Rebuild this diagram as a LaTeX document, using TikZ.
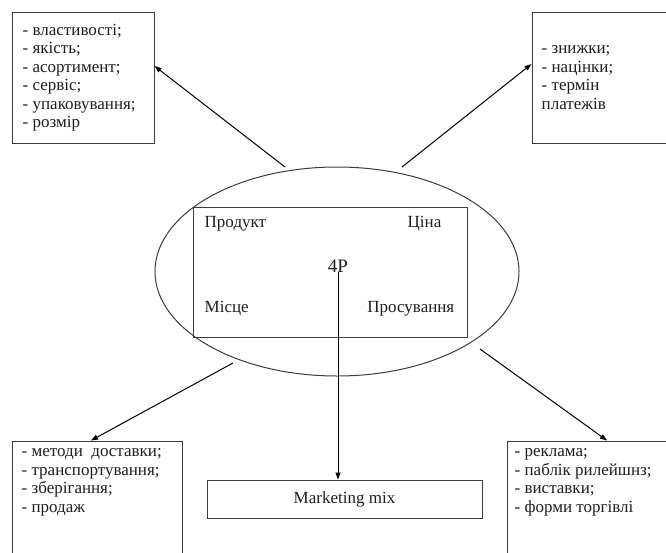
\documentclass[tikz,border=0pt]{standalone}
\usepackage{fontspec}
\setmainfont{Liberation Serif}
\usepackage{tikz}
\usetikzlibrary{arrows.meta,positioning,calc,shapes.geometric}
\definecolor{ink}{HTML}{1E1E1E}
\definecolor{edge}{HTML}{3C3C3C}

\begin{document}
\begin{tikzpicture}[x=1pt,y=-1pt,>={Triangle[length=7pt,width=5pt]},
  every node/.style={font=\fontsize{17}{18.5}\selectfont,text=ink},
  box/.style={draw=edge,line width=1pt,rectangle,inner sep=0pt},
  lbl/.style={inner sep=0pt,align=left}]
\useasboundingbox (0,0) rectangle (666,552);
\clip (0,0) rectangle (666,552);
% outer boxes
\node[box,minimum width=142pt,minimum height=131pt] (prod) at (83,77.5) {};
\node[box,minimum width=268pt,minimum height=131pt] (price) at (666,77.5) {};
\node[box,minimum width=170pt,minimum height=159pt] (place) at (97,520.5) {};
\node[box,minimum width=300pt,minimum height=159pt] (promo) at (657,520.5) {};
\node[box,minimum width=275pt,minimum height=38pt] (mm) at (344.5,499) {Marketing mix};
\node[lbl,anchor=west] at ([xshift=11pt]prod.west) {- властивості;\\- якість;\\- асортимент;\\- сервіс;\\- упаковування;\\- розмір};
\node[lbl,anchor=west] at ([xshift=10pt]price.west) {- знижки;\\- націнки;\\- термін\\платежів};
\node[lbl,anchor=north west] at ([xshift=10pt,yshift=-8pt]place.north west) {- методи\ \ доставки;\\- транспортування;\\- зберігання;\\- продаж};
\node[lbl,anchor=north west] at ([xshift=8pt,yshift=-8pt]promo.north west) {- реклама;\\- паблік рилейшнз;\\- виставки;\\- форми торгівлі};
% centre
\node[draw=edge,line width=1pt,ellipse,minimum width=364pt,minimum height=209pt] (ell) at (337,271.5) {};
\node[box,minimum width=274pt,minimum height=130pt] (pp) at (330,272) {};
\node[inner sep=0pt,anchor=base west] (pr) at ([shift={(12,21)}]pp.north west) {Продукт};
\node[inner sep=0pt,anchor=base east] (ci) at ([shift={(-26,21)}]pp.north east) {Ціна};
\node[inner sep=0pt,anchor=base west] (mi) at ([shift={(12,-25)}]pp.south west) {Місце};
\node[inner sep=0pt,anchor=base east] (ps) at ([shift={(-13,-25)}]pp.south east) {Просування};
\node[inner sep=0pt,anchor=base,font=\fontsize{19}{22}\selectfont] (fp) at ([shift={(8,0)}]pp.center) {4P};
% connectors
\coordinate (tl) at (285,167);
\coordinate (tr) at (402,167);
\coordinate (bl) at (233,363);
\coordinate (br) at (480,349);
\draw[->,line width=1pt] (tl) -- ([yshift=11.5pt]prod.east);
\draw[->,line width=1pt] (tr) -- ([yshift=13.5pt]price.west);
\draw[->,line width=1pt] (bl) -- ([xshift=-6pt]place.north);
\draw[->,line width=1pt] (br) -- ([xshift=-50pt]promo.north);
\draw[->,line width=1pt] (fp.base) -- (fp.base |- mm.north);
\end{tikzpicture}
\end{document}
